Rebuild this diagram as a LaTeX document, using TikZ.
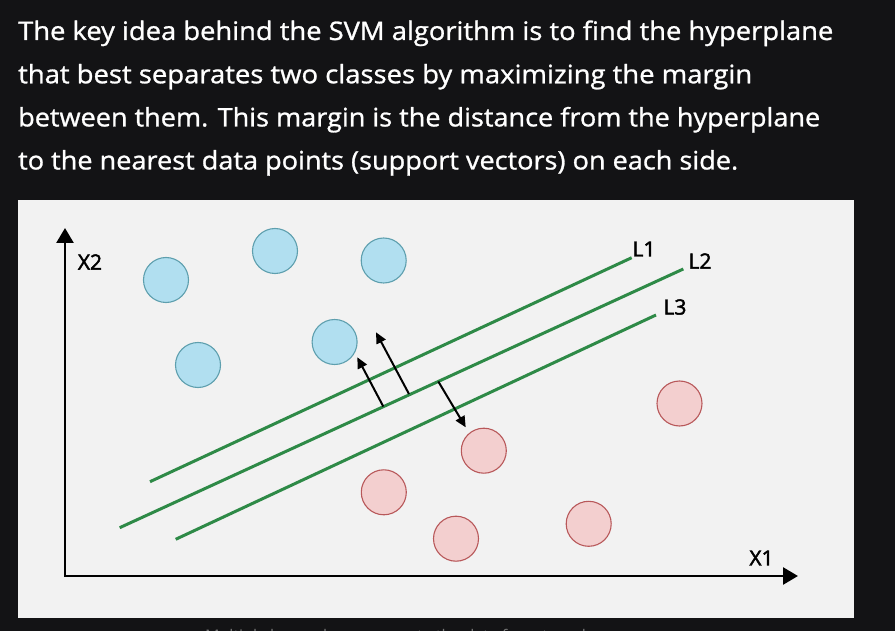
\documentclass[tikz,border=0pt]{standalone}
\usepackage{fontspec}
\setmainfont{Open Sans}
\newfontfamily\labelfont[FakeBold=2.2]{Open Sans}
\newfontfamily\bodyfont[FakeBold=1.0]{Open Sans}
\usetikzlibrary{arrows.meta}

\definecolor{bg}{RGB}{19,19,21}
\definecolor{panel}{RGB}{242,242,242}
\definecolor{bluefill}{RGB}{177,223,240}
\definecolor{bluedraw}{RGB}{94,159,174}
\definecolor{redfill}{RGB}{243,207,207}
\definecolor{reddraw}{RGB}{184,88,90}
\definecolor{hyper}{RGB}{46,138,71}
\definecolor{captiongray}{RGB}{118,118,118}

\newcommand{\fitline}[2]{\resizebox{#1}{\height}{#2}}

\begin{document}
\begin{tikzpicture}[x=1pt,y=-1pt,
  bluept/.style={circle, draw=bluedraw, fill=bluefill, line width=1.1pt, minimum size=45pt, inner sep=0pt},
  redpt/.style={circle, draw=reddraw, fill=redfill, line width=1.1pt, minimum size=45pt, inner sep=0pt},
  hyperline/.style={draw=hyper, line width=3pt},
  axisline/.style={line width=2.6pt, {Triangle[length=15pt,width=17pt]}-{Triangle[length=15pt,width=17pt]}},
  marginarrow/.style={line width=2pt, -{Triangle[length=11pt,width=10pt]}},
  lbl/.style={font=\labelfont\fontsize{21}{21}\selectfont, text=black, inner sep=0pt},
  bodytext/.style={font=\bodyfont\fontsize{25.5}{30}\selectfont, text=white, anchor=base west, inner sep=0pt},
  captiontext/.style={font=\fontsize{16}{18}\selectfont, text=captiongray, anchor=base west, inner sep=0pt}]

\fill[bg] (0,0) rectangle (895,631);
\useasboundingbox (0,0) rectangle (895,631);

% description text
\node[bodytext] (t1) at (18,40) {\fitline{815pt}{The key idea behind the SVM algorithm is to find the hyperplane}};
\node[bodytext] (t2) at (18,83.3) {\fitline{734pt}{that best separates two classes by maximizing the margin}};
\node[bodytext] (t3) at (18,126.4) {\fitline{802pt}{between them. This margin is the distance from the hyperplane}};
\node[bodytext] (t4) at (18,169.5) {\fitline{720pt}{to the nearest data points (support vectors) on each side.}};

% panel
\fill[panel] (18,200) rectangle (854,618);

% axes
\coordinate (ytip) at (65,228);
\coordinate (origin) at (65,576);
\coordinate (xtip) at (798,576);
\draw[axisline] (ytip) -- (origin) -- (xtip);
\node[lbl] (x2) at (90,262) {X2};
\node[lbl] (x1) at (761.5,558) {X1};

% hyperplanes
\coordinate (l1a) at (150,481.7);
\coordinate (l1b) at (631.7,257.7);
\coordinate (l2a) at (119.7,527.7);
\coordinate (l2b) at (683.3,269);
\coordinate (l3a) at (175.7,539.3);
\coordinate (l3b) at (656,315);
\draw[hyperline] (l1a) -- (l1b);
\draw[hyperline] (l2a) -- (l2b);
\draw[hyperline] (l3a) -- (l3b);
\node[lbl] (lab1) at (644,249) {L1};
\node[lbl] (lab2) at (700,261) {L2};
\node[lbl] (lab3) at (675,307) {L3};

% blue class
\node[bluept] (b1) at (166,280) {};
\node[bluept] (b2) at (275,251) {};
\node[bluept] (b3) at (198,365) {};
\node[bluept] (b4) at (383.7,260.5) {};
\node[bluept] (b5) at (334.6,342) {};

% red class
\node[redpt] (r1) at (383.8,492.3) {};
\node[redpt] (r2) at (456,538.7) {};
\node[redpt] (r3) at (483.8,450.7) {};
\node[redpt] (r4) at (588.7,523.8) {};
\node[redpt] (r5) at (679.5,403.5) {};

% margin arrows
\coordinate (m1s) at (383.3,406.5);
\coordinate (m1e) at (357.3,357.3);
\coordinate (m2s) at (409,394);
\coordinate (m2e) at (376,332.3);
\coordinate (m3s) at (438.3,381.5);
\coordinate (m3e) at (465.7,427.3);
\draw[marginarrow] (m1s) -- (m1e);
\draw[marginarrow] (m2s) -- (m2e);
\draw[marginarrow] (m3s) -- (m3e);

% caption (cut off at the bottom edge, as in the reference)
\begin{scope}
\clip (0,618) rectangle (895,631);
\node[captiontext] (cap) at (205,641) {Multiple hyperplanes separate the data from two classes};
\end{scope}
\end{tikzpicture}
\end{document}
